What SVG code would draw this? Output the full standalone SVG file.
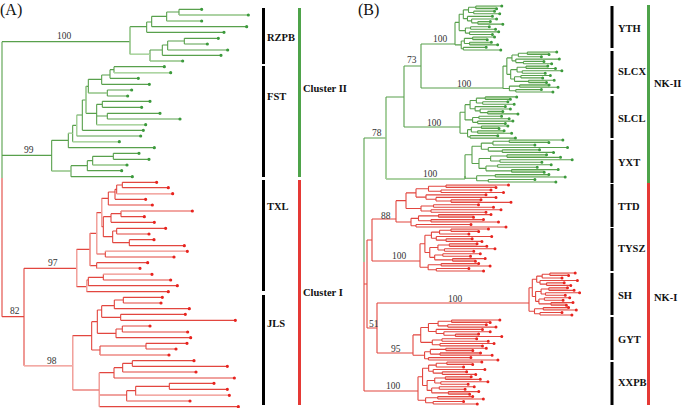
<svg xmlns="http://www.w3.org/2000/svg" width="685" height="408" viewBox="0 0 685 408">
<style>
.ln{fill:none;stroke-width:1.1;vector-effect:non-scaling-stroke}
.dt{fill:none;stroke-width:3.2;stroke-linecap:round;vector-effect:non-scaling-stroke}
.g{stroke:#58a04c}
.gp{stroke:#add6a1}
.r{stroke:#e2463f}
.rp{stroke:#f3aaa5}
.gd{stroke:#3c9a3c}
.rd{stroke:#e8231e}
.bl{font-family:"Liberation Serif","Times New Roman",serif;font-size:9.5px;fill:#333}
.lb{font-family:"Liberation Serif","Times New Roman",serif;font-size:10.5px;font-weight:bold;fill:#111}
.pn{font-family:"Liberation Serif","Times New Roman",serif;font-size:16px;fill:#111}
.bk{fill:#000}
.gb{fill:#4ea34a}
.rb{fill:#e53935}
</style>
<defs>
<g id="t1">
<path stroke="none" d="M20 -20H40V-17.6H20Z M22 -5.9H34V-3.5H22Z M17 8.2H31V10.6H17Z M14 12.9H35V15.3H14Z"/>
<path fill="none" stroke-width="1.1" vector-effect="non-scaling-stroke" d="M0 -5.1V15.3 M0 -5.1H4 M0 15.3H6 M4 -12.5V2.35 M4 -12.5H8 M4 2.35H10 M8 -16.45V-8.5 M8 -16.45H13 M8 -8.5H12 M13 -18.8V-14.1 M13 -18.8H20 M13 -14.1H18 M20 -20V-17.6 M20 -20H45 M20 -17.6H40 M18 -15.3V-12.9 M18 -15.3H38 M18 -12.9H43 M12 -10.6V-6.45 M12 -10.6H36 M12 -6.45H16 M16 -8.2V-4.7 M16 -8.2H40 M16 -4.7H22 M22 -5.9V-3.5 M22 -5.9H34 M22 -3.5H46 M10 0V4.7 M10 0H15 M10 4.7H14 M15 -1.2V1.2 M15 -1.2H33 M15 1.2H39 M14 3.5V5.9 M14 3.5H42 M14 5.9H36 M6 11.75V18.8 M6 11.75H9 M6 18.8H8 M9 9.4V14.1 M9 9.4H17 M9 14.1H14 M17 8.2V10.6 M17 8.2H38 M17 10.6H31 M14 12.9V15.3 M14 12.9H35 M14 15.3H41 M8 17.6V20 M8 17.6H30 M8 20H44"/>
<path fill="none" stroke="currentColor" stroke-width="3" stroke-linecap="round" vector-effect="non-scaling-stroke" d="M45 -20h0M40 -17.6h0M38 -15.3h0M43 -12.9h0M36 -10.6h0M40 -8.2h0M34 -5.9h0M46 -3.5h0M33 -1.2h0M39 1.2h0M42 3.5h0M36 5.9h0M38 8.2h0M31 10.6h0M35 12.9h0M41 15.3h0M30 17.6h0M44 20h0"/>
</g>
<g id="t2">
<path stroke="none" d="M19 -20H36V-17.6H19Z M18 -5.9H35V-3.5H18Z M13 12.9H36V15.3H13Z M20 8.2H34V10.6H20Z"/>
<path fill="none" stroke-width="1.1" vector-effect="non-scaling-stroke" d="M0 -5.9V16.45 M0 -5.9H3 M0 16.45H5 M3 -14.1V2.35 M3 -14.1H7 M3 2.35H6 M7 -17.05V-11.15 M7 -17.05H12 M7 -11.15H10 M12 -18.8V-15.3 M12 -18.8H19 M12 -15.3H30 M19 -20V-17.6 M19 -20H42 M19 -17.6H36 M10 -12.9V-9.4 M10 -12.9H44 M10 -9.4H16 M16 -10.6V-8.2 M16 -10.6H32 M16 -8.2H38 M6 -2.35V7.05 M6 -2.35H11 M6 7.05H9 M11 -4.7V0 M11 -4.7H18 M11 0H15 M18 -5.9V-3.5 M18 -5.9H35 M18 -3.5H41 M15 -1.2V1.2 M15 -1.2H46 M15 1.2H33 M9 4.7V9.4 M9 4.7H14 M9 9.4H20 M14 3.5V5.9 M14 3.5H37 M14 5.9H31 M20 8.2V10.6 M20 8.2H40 M20 10.6H34 M5 14.1V18.8 M5 14.1H13 M5 18.8H10 M13 12.9V15.3 M13 12.9H36 M13 15.3H43 M10 17.6V20 M10 17.6H30 M10 20H39"/>
<path fill="none" stroke="currentColor" stroke-width="3" stroke-linecap="round" vector-effect="non-scaling-stroke" d="M42 -20h0M36 -17.6h0M30 -15.3h0M44 -12.9h0M32 -10.6h0M38 -8.2h0M35 -5.9h0M41 -3.5h0M46 -1.2h0M33 1.2h0M37 3.5h0M31 5.9h0M40 8.2h0M34 10.6h0M36 12.9h0M43 15.3h0M30 17.6h0M39 20h0"/>
</g>
</defs>

<g id="panel-A">
<text class="pn" x="0" y="15">(A)</text>
<g id="treeA-green" transform="scale(0.333333)">
<path class="ln g" d="M6 125V534 M6 125H390 M390 80V163 M390 80H440 M390 163H450 M440 66V97 M440 66H455 M440 97H672 M455 49V80 M455 49H500 M455 80H740 M500 36V63 M500 36H537 M500 63H605 M537 28V45 M537 28H605 M537 45H745 M450 150V183 M450 150H487 M450 183H548 M487 135V166 M487 135H503 M487 166H663 M503 123V150 M503 123H553 M503 150H683 M553 115V132 M553 115H655 M553 132H622 M6 466H155 M155 421V513 M155 421H205 M155 513H213 M205 400V443 M205 400H218 M205 443H463 M218 376V425 M218 376H230 M218 425H358 M230 345V408 M230 345H247 M230 408H422 M247 300V391 M247 300H258 M247 391H430 M258 259V340 M258 259H265 M258 340H290 M265 238V279 M265 238H305 M265 279H322 M305 225V253 M305 225H330 M305 253H448 M330 209V235 M330 209H342 M330 235H415 M342 200V218 M342 200H493 M342 218H512 M322 270V288 M322 270H395 M322 288H383 M290 313V374 M290 313H307 M290 348H322 M290 374H437 M307 304V322 M307 304H450 M307 322H425 M322 340V357 M322 340H480 M322 357H540 M213 497V530 M213 497H262 M213 530H397 M262 482V512 M262 482H278 M262 512H365 M278 469V495 M278 469H340 M278 495H381 M340 460V478 M340 460H417 M340 478H447"/>
<path class="ln gp" d="M390 80V163 M390 163H450 M450 183H548 M537 45H745 M500 63H605 M258 259V340 M265 279H322 M230 345V408 M218 425H358 M155 513H213 M278 495H381 M290 374H437 M342 218H512 M205 400H218"/>
<path class="dt gd" d="M605 28h0M745 45h0M605 63h0M740 80h0M672 97h0M655 115h0M622 132h0M683 150h0M663 166h0M548 183h0M493 200h0M512 218h0M415 235h0M448 253h0M395 270h0M383 288h0M450 304h0M425 322h0M480 340h0M540 357h0M437 374h0M430 391h0M422 408h0M358 425h0M463 443h0M417 460h0M447 478h0M381 495h0M365 512h0M397 530h0"/>
</g>
<g id="treeA-red" transform="translate(0 170) scale(0.333333)">
<path class="ln r" d="M6 24V440 M6 440H72 M72 295V587 M72 295H230 M72 587H218 M230 238V350 M230 238H270 M230 350H260 M270 190V287 M270 190H290 M270 287H290 M290 128V252 M290 128H305 M290 252H316 M305 85V170 M305 85H325 M305 170H310 M325 66V105 M325 66H345 M325 105H457 M345 58V88 M345 58H350 M345 88H437 M350 45V71 M350 45H367 M350 71H518 M367 37V53 M367 37H470 M367 53H505 M310 140V200 M310 140H333 M310 200H338 M333 131V157 M333 131H363 M333 157H463 M363 123V140 M363 123H577 M363 140H433 M338 183V218 M338 183H350 M338 218H388 M350 175V192 M350 175H497 M350 192H447 M388 209V227 M388 209H462 M388 227H553 M316 244V261 M316 244H562 M316 261H522 M290 278V295 M290 278H443 M290 295H420 M260 330V365 M260 330H265 M260 365H505 M265 322V347 M265 322H310 M265 347H532 M310 313V330 M310 313H456 M310 330H512 M218 497V660 M218 497H275 M218 660H298 M275 455V540 M275 455H292 M275 540H300 M292 420V490 M292 420H305 M292 490H348 M305 407V442 M305 407H343 M305 442H362 M343 390V416 M343 390H370 M343 416H568 M370 382V399 M370 382H487 M370 399H483 M362 433V451 M362 433H556 M362 451H706 M348 477V503 M348 477H367 M348 503H572 M367 468V486 M367 468H450 M367 486H563 M300 528V555 M300 528H438 M300 555H507 M438 520V537 M438 520H561 M438 537H528 M298 608V710 M298 608H342 M298 675H380 M298 710H715 M342 593V624 M342 593H368 M342 624H703 M368 580V606 M368 580H397 M368 606H588 M397 572V589 M397 572H582 M397 589H682 M380 662V693 M380 662H407 M380 693H570 M407 649V676 M407 649H508 M407 676H688 M508 640V658 M508 640H642 M508 658H682"/>
<path class="ln rp" d="M270 190V287 M290 128V252 M363 123H577 M305 85V170 M260 330V365 M310 313H456 M230 238V350 M72 587H218 M298 608V710 M380 693H570 M407 676H688 M218 497V660 M290 295H420 M350 71H518 M316 244H562 M300 555H507"/>
<path class="dt rd" d="M470 37h0M505 53h0M518 71h0M437 88h0M457 105h0M577 123h0M433 140h0M463 157h0M497 175h0M447 192h0M462 209h0M553 227h0M562 244h0M522 261h0M443 278h0M420 295h0M456 313h0M512 330h0M532 347h0M505 365h0M487 382h0M483 399h0M568 416h0M556 433h0M706 451h0M450 468h0M563 486h0M572 503h0M561 520h0M528 537h0M507 555h0M582 572h0M682 589h0M588 606h0M703 624h0M642 640h0M682 658h0M688 676h0M570 693h0M715 710h0"/>
</g>
<g id="bootA">
<text class="bl" x="57" y="39">100</text>
<text class="bl" x="24" y="153">99</text>
<text class="bl" x="48" y="266">97</text>
<text class="bl" x="10" y="314">82</text>
<text class="bl" x="47" y="364">98</text>
</g>
<g id="barsA">
<rect class="bk" x="262" y="8" width="3" height="56"/>
<rect class="bk" x="262" y="66" width="3" height="111"/>
<rect class="bk" x="262" y="180" width="3" height="111"/>
<rect class="bk" x="262" y="295" width="3" height="110"/>
<rect class="gb" x="298" y="8" width="3" height="169"/>
<rect class="rb" x="298" y="180" width="3" height="225"/>
<text class="lb" x="267" y="41">RZPB</text>
<text class="lb" x="267" y="100">FST</text>
<text class="lb" x="267" y="210">TXL</text>
<text class="lb" x="267" y="327">JLS</text>
<text class="lb" x="303" y="92">Cluster II</text>
<text class="lb" x="303" y="296">Cluster I</text>
</g>
</g>

<g id="panel-B">
<text class="pn" x="358" y="15">(B)</text>
<g id="connectorsB">
<path class="ln g" d="M364 138V262 M364 138H386 M386 97V179 M386 97H404 M386 179H465 M404 66V127 M404 66H421 M404 127H460 M421 44V88 M421 44H455 M421 88H503 M465 176V179"/>
<path class="ln gp" d="M386 110V179 M386 179H440 M364 150V230"/>
<path class="ln r" d="M364 262V391 M364 284H367 M364 391H418 M367 240V328 M367 240H372 M367 328H377 M372 219V261 M372 219H396 M372 261H420 M377 303V353 M377 303H529 M377 353H413"/>
</g>
<g id="cladesB">
<use id="YTH-clade" href="#t1" transform="translate(455 28) scale(1.04 1.1)" stroke="#58a04c" color="#3c9a3c" fill="#c4e3ba"/>
<use id="SLCX-clade" href="#t2" transform="translate(503 72) scale(1.28 1)" stroke="#58a04c" color="#3c9a3c" fill="#c4e3ba"/>
<use id="SLCL-clade" href="#t1" transform="translate(460 117.5) scale(1.26 1.03)" stroke="#58a04c" color="#3c9a3c" fill="#c4e3ba"/>
<use id="YXT-clade" href="#t2" transform="translate(465 161) scale(2.33 1.05)" stroke="#58a04c" color="#3c9a3c" fill="#c4e3ba"/>
<use id="TTD-clade" href="#t1" transform="translate(396 206) scale(2.5 1.05)" stroke="#e2463f" color="#e8231e" fill="#f6c1bd"/>
<use id="TYSZ-clade" href="#t2" transform="translate(420 250) scale(1.63 1.05)" stroke="#e2463f" color="#e8231e" fill="#f6c1bd"/>
<use id="SH-clade" href="#t2" transform="translate(529 294) scale(1.1 1.05)" stroke="#e2463f" color="#e8231e" fill="#f6c1bd"/>
<use id="GYT-clade" href="#t1" transform="translate(413 340) scale(1.93 1)" stroke="#e2463f" color="#e8231e" fill="#f6c1bd"/>
<use id="XXPB-clade" href="#t2" transform="translate(418 383) scale(1.52 1.05)" stroke="#e2463f" color="#e8231e" fill="#f6c1bd"/>
</g>
<g id="bootB">
<text class="bl" x="433" y="42">100</text>
<text class="bl" x="457" y="87">100</text>
<text class="bl" x="407" y="63">73</text>
<text class="bl" x="427" y="126">100</text>
<text class="bl" x="372" y="136">78</text>
<text class="bl" x="423" y="177">100</text>
<text class="bl" x="381" y="219">88</text>
<text class="bl" x="392" y="259">100</text>
<text class="bl" x="448" y="302">100</text>
<text class="bl" x="369" y="327">51</text>
<text class="bl" x="391" y="352">95</text>
<text class="bl" x="386" y="389">100</text>
</g>
<g id="barsB">
<rect class="bk" x="610.5" y="6" width="3" height="42"/>
<rect class="bk" x="610.5" y="51" width="3" height="43"/>
<rect class="bk" x="610.5" y="96" width="3" height="42"/>
<rect class="bk" x="610.5" y="140" width="3" height="43"/>
<rect class="bk" x="610.5" y="184" width="3" height="43"/>
<rect class="bk" x="610.5" y="228" width="3" height="43"/>
<rect class="bk" x="610.5" y="273" width="3" height="42"/>
<rect class="bk" x="610.5" y="317" width="3" height="43"/>
<rect class="bk" x="610.5" y="362" width="3" height="43"/>
<rect class="gb" x="647" y="5" width="3" height="178"/>
<rect class="rb" x="647" y="183" width="3" height="222"/>
<text class="lb" x="618" y="32">YTH</text>
<text class="lb" x="618" y="75">SLCX</text>
<text class="lb" x="618" y="122">SLCL</text>
<text class="lb" x="618" y="166">YXT</text>
<text class="lb" x="618" y="210">TTD</text>
<text class="lb" x="618" y="252">TYSZ</text>
<text class="lb" x="618" y="299">SH</text>
<text class="lb" x="618" y="343">GYT</text>
<text class="lb" x="618" y="386">XXPB</text>
<text class="lb" x="654" y="87">NK-II</text>
<text class="lb" x="654" y="301">NK-I</text>
</g>
</g>
</svg>
